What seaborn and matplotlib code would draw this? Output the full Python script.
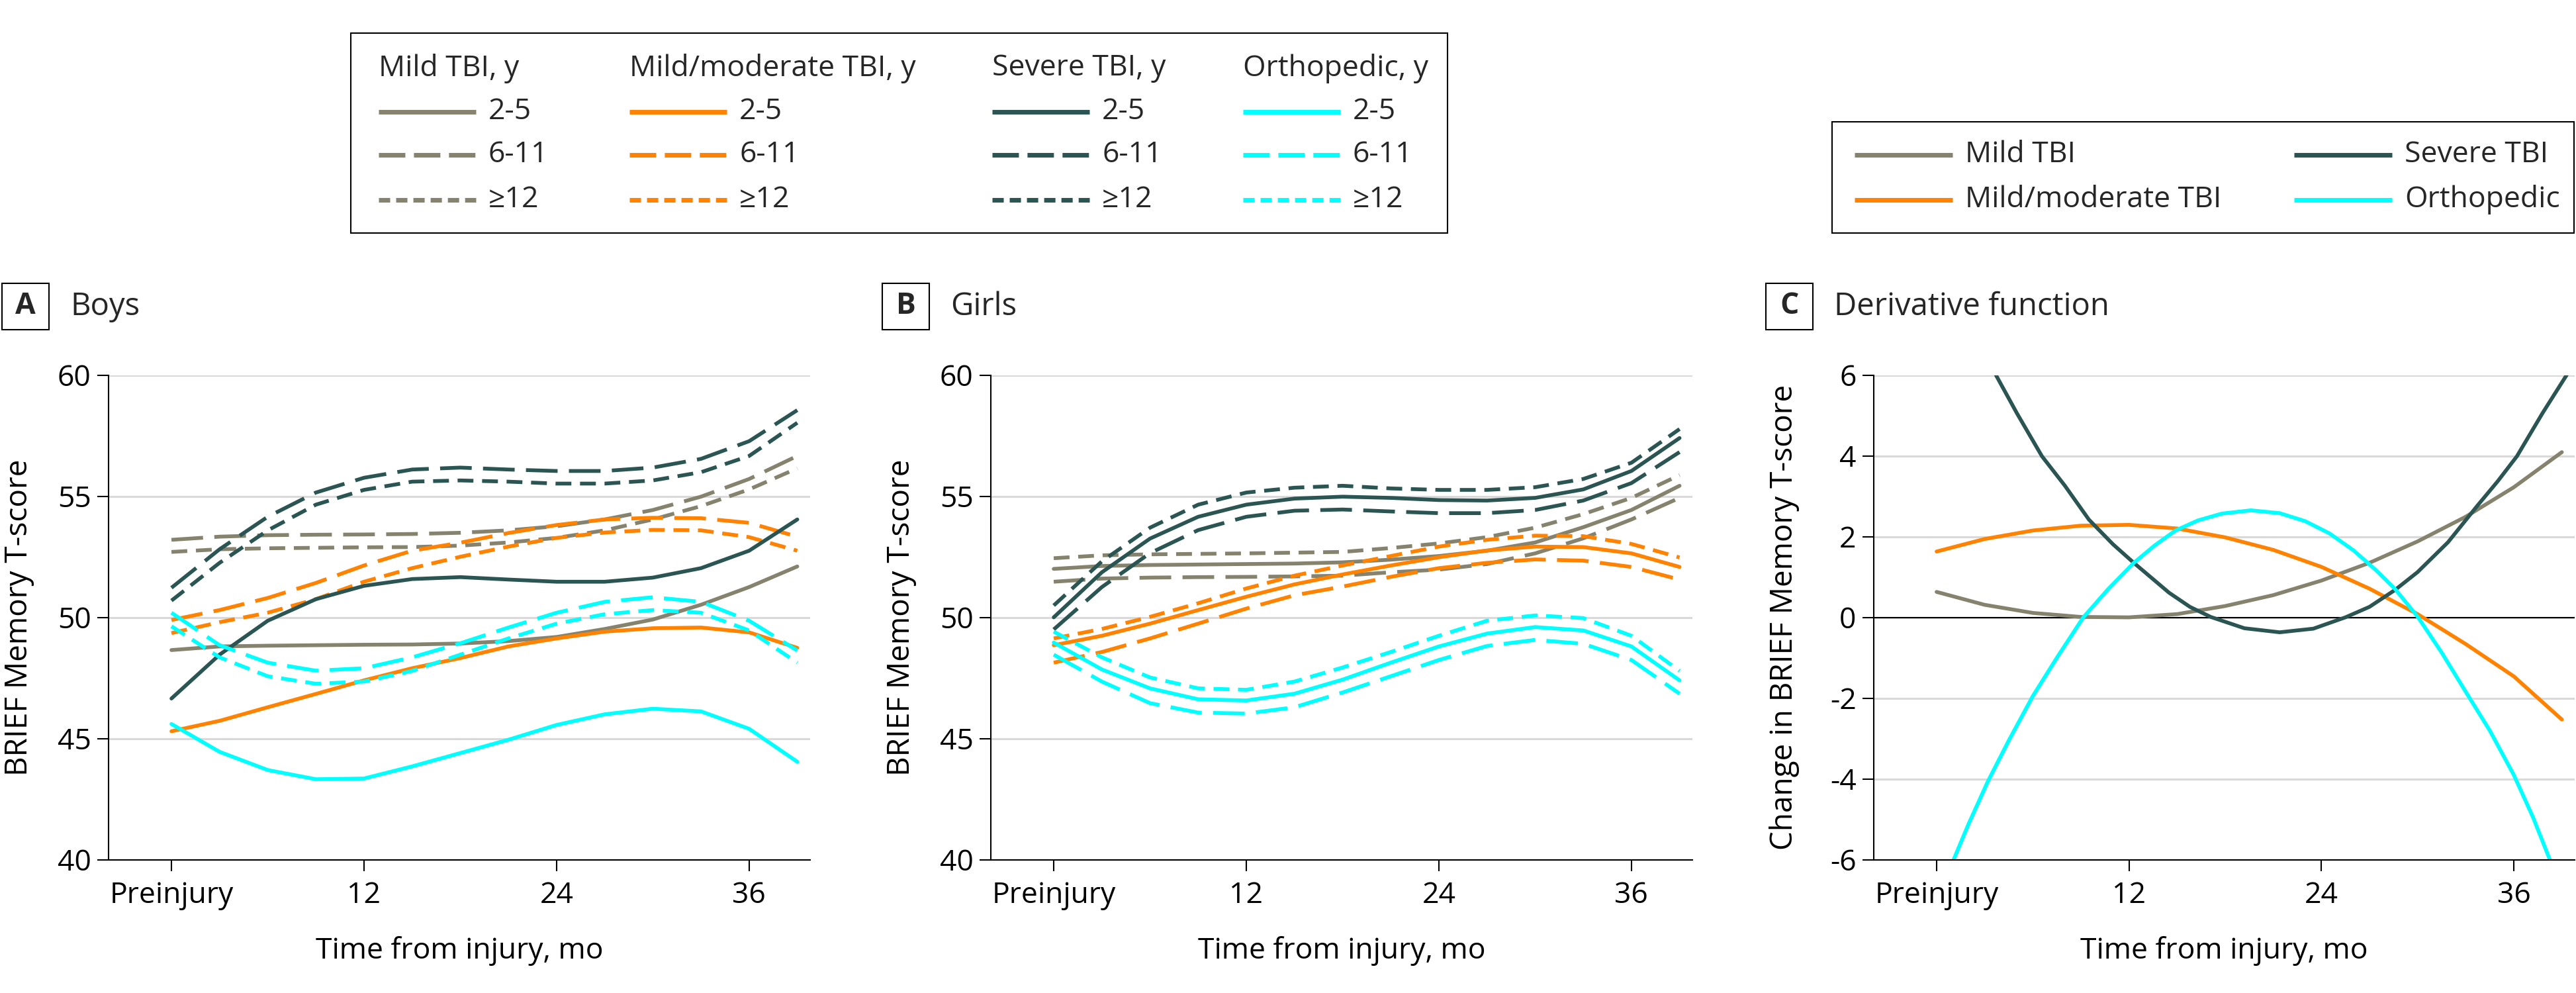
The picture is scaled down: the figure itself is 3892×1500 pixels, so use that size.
"""BRIEF Memory T-score trajectories by injury group, age and sex."""

import matplotlib.pyplot as plt
import pandas as pd
import seaborn as sns
from matplotlib.lines import Line2D
from matplotlib.patches import Rectangle

# months from injury (0 = preinjury)
months = [0, 3, 6, 9, 12, 15, 18, 21, 24, 27, 30, 33, 36, 39]

# Panel A, boys
boys_mild_25 = [48.65, 48.8, 48.83, 48.85, 48.87, 48.88, 48.92, 49.02, 49.19, 49.52, 49.91, 50.52, 51.25, 52.1]
boys_mild_611 = [53.2, 53.33, 53.39, 53.41, 53.42, 53.44, 53.49, 53.59, 53.76, 54.04, 54.43, 54.98, 55.71, 56.66]
boys_mild_12 = [52.7, 52.81, 52.85, 52.87, 52.89, 52.9, 52.96, 53.09, 53.28, 53.59, 54.04, 54.59, 55.28, 56.15]
boys_modr_25 = [45.3, 45.73, 46.29, 46.84, 47.4, 47.9, 48.32, 48.8, 49.13, 49.41, 49.55, 49.58, 49.38, 48.74]
boys_modr_611 = [49.89, 50.3, 50.8, 51.42, 52.14, 52.75, 53.08, 53.48, 53.81, 54.04, 54.11, 54.09, 53.9, 53.33]
boys_modr_12 = [49.35, 49.8, 50.19, 50.75, 51.47, 52.03, 52.5, 52.92, 53.28, 53.5, 53.61, 53.59, 53.31, 52.75]
boys_sev_25 = [46.65, 48.46, 49.86, 50.75, 51.3, 51.58, 51.66, 51.56, 51.47, 51.47, 51.64, 52.03, 52.75, 54.04]
boys_sev_611 = [51.22, 52.81, 54.15, 55.15, 55.76, 56.1, 56.18, 56.1, 56.04, 56.04, 56.18, 56.54, 57.27, 58.55]
boys_sev_12 = [50.69, 52.25, 53.59, 54.65, 55.26, 55.6, 55.65, 55.6, 55.52, 55.52, 55.65, 55.99, 56.66, 58.03]
boys_orth_25 = [45.6, 44.45, 43.7, 43.32, 43.35, 43.85, 44.4, 44.95, 45.56, 46.0, 46.23, 46.12, 45.4, 44.04]
boys_orth_611 = [50.19, 48.85, 48.13, 47.8, 47.9, 48.35, 48.93, 49.58, 50.19, 50.64, 50.83, 50.64, 49.86, 48.63]
boys_orth_12 = [49.63, 48.35, 47.57, 47.26, 47.35, 47.79, 48.46, 49.13, 49.74, 50.13, 50.3, 50.19, 49.46, 48.13]

# Panel B, girls
girls_mild_25 = [52.0, 52.12, 52.16, 52.18, 52.2, 52.22, 52.27, 52.38, 52.53, 52.75, 53.09, 53.72, 54.43, 55.43]
girls_mild_611 = [51.47, 51.6, 51.64, 51.66, 51.67, 51.69, 51.72, 51.86, 51.97, 52.2, 52.64, 53.26, 54.04, 54.93]
girls_mild_12 = [52.44, 52.56, 52.6, 52.62, 52.64, 52.67, 52.7, 52.86, 53.05, 53.31, 53.7, 54.26, 54.93, 55.87]
girls_modr_25 = [48.85, 49.24, 49.74, 50.3, 50.85, 51.36, 51.77, 52.14, 52.48, 52.76, 52.92, 52.9, 52.64, 52.08]
girls_modr_611 = [48.13, 48.57, 49.13, 49.74, 50.36, 50.91, 51.27, 51.67, 52.03, 52.25, 52.39, 52.34, 52.08, 51.56]
girls_modr_12 = [49.13, 49.52, 50.02, 50.58, 51.19, 51.72, 52.14, 52.53, 52.92, 53.2, 53.37, 53.35, 53.03, 52.47]
girls_sev_25 = [50.0, 51.86, 53.25, 54.15, 54.65, 54.9, 54.98, 54.93, 54.84, 54.82, 54.93, 55.28, 56.04, 57.4]
girls_sev_611 = [49.5, 51.25, 52.65, 53.6, 54.15, 54.4, 54.45, 54.37, 54.3, 54.3, 54.43, 54.82, 55.54, 56.82]
girls_sev_12 = [50.49, 52.31, 53.7, 54.65, 55.15, 55.35, 55.43, 55.32, 55.26, 55.26, 55.37, 55.71, 56.38, 57.77]
girls_orth_25 = [48.96, 47.85, 47.07, 46.62, 46.57, 46.85, 47.43, 48.13, 48.8, 49.33, 49.6, 49.46, 48.8, 47.4]
girls_orth_611 = [48.46, 47.35, 46.46, 46.07, 46.03, 46.29, 46.9, 47.57, 48.24, 48.82, 49.07, 48.91, 48.24, 46.85]
girls_orth_12 = [49.41, 48.35, 47.52, 47.07, 47.01, 47.35, 47.93, 48.57, 49.24, 49.86, 50.08, 49.97, 49.24, 47.79]

# Panel C, derivative function
deriv_mild = [0.63, 0.31, 0.11, 0.01, 0.0, 0.08, 0.28, 0.55, 0.91, 1.35, 1.88, 2.49, 3.22, 4.09]
deriv_modr = [1.63, 1.94, 2.15, 2.27, 2.29, 2.2, 1.98, 1.67, 1.25, 0.71, 0.08, -0.66, -1.46, -2.53]
severe_months = [3.7, 5, 6.57, 8, 9.5, 11, 12.3, 14.5, 15.8, 17.1, 19.2, 21.4, 23.5, 25.5,
                  27, 28.6, 30, 31.9, 33.7, 35, 36.2, 37.8, 39.3]
deriv_sev = [6.0, 5.06, 3.99, 3.26, 2.42, 1.81, 1.35, 0.61, 0.26, 0.01, -0.27, -0.37, -0.28, 0.0,
             0.26, 0.68, 1.12, 1.86, 2.75, 3.37, 3.99, 5.06, 6.0]
ortho_months = [1.06, 2, 3.2, 4.5, 6, 7.5, 9.15, 10.7, 12.3, 13.6, 14.9, 16.3, 17.8, 19.6,
                21.4, 23, 24.5, 26, 27.4, 28.6, 30, 31.5, 33, 34.5, 36, 37.2, 38.25]
deriv_orth = [-6.0, -5.11, -4.06, -3.05, -1.95, -1.0, 0.0, 0.7, 1.35, 1.78, 2.15, 2.4, 2.57, 2.65,
              2.58, 2.38, 2.08, 1.66, 1.17, 0.7, 0.02, -0.87, -1.84, -2.8, -3.9, -4.95, -6.0]

groups = ["Mild TBI", "Mild/moderate TBI", "Severe TBI", "Orthopedic"]
ages = ["2-5", "6-11", "≥12"]
tick_months = [0, 12, 24, 36]
tick_labels = ["Preinjury", "12", "24", "36"]

palette = {
    "Mild TBI": "#85836D",
    "Mild/moderate TBI": "#FF8200",
    "Severe TBI": "#2B5553",
    "Orthopedic": "#00FFFF",
}
panel_dashes = {"2-5": "", "6-11": (8.4, 3.0), "≥12": (4.2, 2.3)}
legend_dashes = {"2-5": None, "6-11": (5.75, 1.87), "≥12": (2.45, 1.3)}

W, H = 3892, 1500


def long_frame(series):
    rows = []
    for (group, age), values in series.items():
        for m, v in zip(months, values):
            rows.append({"month": m, "score": v, "group": group, "age": age})
    return pd.DataFrame(rows)


boys = long_frame({
    ("Mild TBI", "2-5"): boys_mild_25, ("Mild TBI", "6-11"): boys_mild_611, ("Mild TBI", "≥12"): boys_mild_12,
    ("Mild/moderate TBI", "2-5"): boys_modr_25, ("Mild/moderate TBI", "6-11"): boys_modr_611,
    ("Mild/moderate TBI", "≥12"): boys_modr_12,
    ("Severe TBI", "2-5"): boys_sev_25, ("Severe TBI", "6-11"): boys_sev_611, ("Severe TBI", "≥12"): boys_sev_12,
    ("Orthopedic", "2-5"): boys_orth_25, ("Orthopedic", "6-11"): boys_orth_611, ("Orthopedic", "≥12"): boys_orth_12,
})
girls = long_frame({
    ("Mild TBI", "2-5"): girls_mild_25, ("Mild TBI", "6-11"): girls_mild_611, ("Mild TBI", "≥12"): girls_mild_12,
    ("Mild/moderate TBI", "2-5"): girls_modr_25, ("Mild/moderate TBI", "6-11"): girls_modr_611,
    ("Mild/moderate TBI", "≥12"): girls_modr_12,
    ("Severe TBI", "2-5"): girls_sev_25, ("Severe TBI", "6-11"): girls_sev_611, ("Severe TBI", "≥12"): girls_sev_12,
    ("Orthopedic", "2-5"): girls_orth_25, ("Orthopedic", "6-11"): girls_orth_611, ("Orthopedic", "≥12"): girls_orth_12,
})
deriv = pd.concat([
    pd.DataFrame({"month": months, "change": deriv_mild, "group": "Mild TBI"}),
    pd.DataFrame({"month": months, "change": deriv_modr, "group": "Mild/moderate TBI"}),
    pd.DataFrame({"month": severe_months, "change": deriv_sev, "group": "Severe TBI"}),
    pd.DataFrame({"month": ortho_months, "change": deriv_orth, "group": "Orthopedic"}),
])

sns.set_theme(style="white")
plt.rcParams["font.family"] = ["Open Sans", "DejaVu Sans"]

FS = 32
fig = plt.figure(figsize=(W / 100, H / 100), dpi=100)


def px_box(left, top, right, bottom):
    return [left / W, 1 - bottom / H, (right - left) / W, (bottom - top) / H]


def style_axis(ax, ylabel, yticks, ylim):
    ax.set_xlim(-3.92, 39.8)
    ax.set_ylim(*ylim)
    ax.set_yticks(yticks)
    ax.set_xticks(tick_months)
    ax.set_xticklabels(tick_labels)
    ax.yaxis.grid(True, color="#D9D9D9", linewidth=2.2)
    ax.xaxis.grid(False)
    ax.set_axisbelow(True)
    sns.despine(ax=ax)
    for side in ("left", "bottom"):
        ax.spines[side].set_color("black")
        ax.spines[side].set_linewidth(1.5)
    ax.tick_params(axis="both", direction="out", length=12, width=1.5, color="black",
                   labelsize=FS, labelcolor="black", left=True, bottom=True)
    ax.tick_params(axis="y", pad=7)
    ax.tick_params(axis="x", pad=11)
    ax.set_ylabel(ylabel, fontsize=33, color="black")
    ax.set_xlabel("Time from injury, mo", fontsize=FS, color="black")
    ax.yaxis.set_label_coords(-112 / 1060, 0.5)
    ax.xaxis.set_label_coords(0.5, -0.157)
    ax.xaxis.label.set_va("top")


def panel_header(x0, letter, title):
    fig.add_artist(Rectangle((x0 / W, 1 - 498 / H), 71 / W, 70 / H, transform=fig.transFigure,
                             fill=False, edgecolor="black", linewidth=1.5))
    fig.text((x0 + 35.5) / W, 1 - 463 / H, letter, fontsize=FS, fontweight="bold",
             ha="center", va="center")
    fig.text((x0 + 103) / W, 1 - 463 / H, title, fontsize=34, ha="left", va="center")


axA = fig.add_axes(px_box(164, 566.5, 1224, 1298.6))
axB = fig.add_axes(px_box(1497, 566.5, 2557, 1298.6))
axC = fig.add_axes(px_box(2831, 566.5, 3890, 1298.6))

for ax, df in ((axA, boys), (axB, girls)):
    sns.lineplot(data=df, x="month", y="score", hue="group", style="age",
                 hue_order=groups, style_order=ages, palette=palette, dashes=panel_dashes,
                 estimator=None, errorbar=None, linewidth=4.1, legend=False, ax=ax)
    style_axis(ax, "BRIEF Memory T-score", [40, 45, 50, 55, 60], (40, 60))

sns.lineplot(data=deriv, x="month", y="change", hue="group", hue_order=groups,
             palette=palette, estimator=None, errorbar=None, linewidth=4.1,
             legend=False, ax=axC)
style_axis(axC, "Change in BRIEF Memory T-score", [-6, -4, -2, 0, 2, 4, 6], (-6, 6))
axC.axhline(0, color="black", linewidth=1.5, zorder=1.5)
axC.set_yticklabels(["-6", "-4", "-2", "0", "2", "4", "6"])

panel_header(3, "A", "Boys")
panel_header(1333, "B", "Girls")
panel_header(2668, "C", "Derivative function")


def legend_entry(x, y, color, dash, label, length=147, lw=5):
    line = Line2D([x / W, (x + length) / W], [1 - y / H, 1 - y / H], transform=fig.transFigure,
                  color=color, linewidth=lw, solid_capstyle="butt", dash_capstyle="butt")
    if dash is not None:
        line.set_dashes(dash)
    fig.add_artist(line)
    fig.text((x + length + 19) / W, 1 - y / H, label, fontsize=FS, ha="left", va="center")


# legend for panels A and B
fig.add_artist(Rectangle((530 / W, 1 - 352 / H), (2187 - 530) / W, (352 - 50) / H,
                         transform=fig.transFigure, fill=False, edgecolor="black", linewidth=1.5))
col_x = [572, 951, 1499, 1878]
row_y = [169, 234, 302]
for x0, group in zip(col_x, groups):
    fig.text(x0 / W, 1 - 103 / H, f"{group}, y", fontsize=FS, ha="left", va="center")
    for y0, age in zip(row_y, ages):
        legend_entry(x0, y0, palette[group], legend_dashes[age], age)

# legend for panel C
fig.add_artist(Rectangle((2768 / W, 1 - 352 / H), (3889 - 2768) / W, (352 - 184) / H,
                         transform=fig.transFigure, fill=False, edgecolor="black", linewidth=1.5))
for i, group in enumerate(["Mild TBI", "Severe TBI", "Mild/moderate TBI", "Orthopedic"]):
    x0 = [2802, 3466][i % 2]
    y0 = [234, 302][i // 2]
    legend_entry(x0, y0, palette[group], None, group, length=148)

fig.savefig("out.png", dpi=100)
plt.close(fig)
